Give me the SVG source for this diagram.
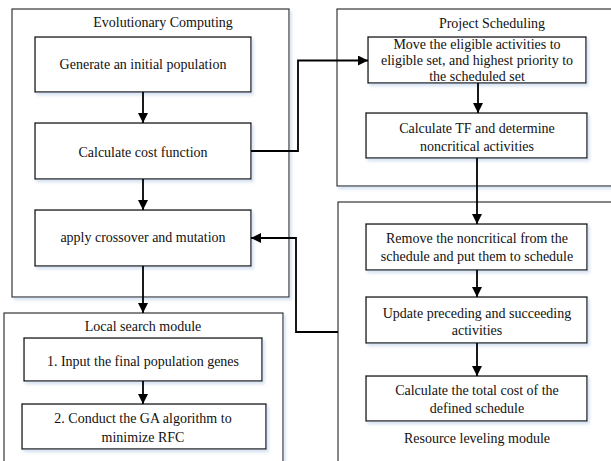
<svg xmlns="http://www.w3.org/2000/svg" width="611" height="461" viewBox="0 0 611 461" font-family="'Liberation Serif', 'Times New Roman', Times, 'DejaVu Serif', serif">
<style>
.outer{fill:#fff;stroke:#333;stroke-width:1.2;filter:url(#sh)}
.box{fill:#fff;stroke:#111;stroke-width:1.3;filter:url(#sh)}
text{font-family:'Liberation Serif','Times New Roman',Times,'DejaVu Serif',serif;font-size:14px;fill:#111;text-anchor:middle}
.c{fill:none;stroke:#000;stroke-width:1.8}
.a{marker-end:url(#ar)}
</style>
<defs>
<filter id="sh" x="-5%" y="-5%" width="115%" height="120%">
<feDropShadow dx="2" dy="2.5" stdDeviation="1.5" flood-color="#b9cde8" flood-opacity="0.6"/>
</filter>
<marker id="ar" markerUnits="userSpaceOnUse" markerWidth="11" markerHeight="11" refX="10" refY="5" orient="auto">
<path d="M0,0 L10,5 L0,10 z" fill="#000"/>
</marker>
</defs>
<g id="evolutionary-computing">
<rect class="outer" x="12" y="9" width="277" height="288"/>
<text x="163" y="26.5">Evolutionary Computing</text>
</g>
<g id="project-scheduling">
<rect class="outer" x="337" y="9" width="290" height="177"/>
<text x="492" y="27.5">Project Scheduling</text>
</g>
<g id="resource-leveling">
<rect class="outer" x="338" y="202" width="290" height="270"/>
<text x="477" y="442.5">Resource leveling module</text>
</g>
<g id="local-search">
<rect class="outer" x="4" y="313" width="279" height="160"/>
<text x="143" y="330.5">Local search module</text>
</g>
<g id="generate">
<rect class="box" x="35" y="37" width="216" height="55"/>
<text x="143" y="69">Generate an initial population</text>
</g>
<g id="cost">
<rect class="box" x="35" y="123" width="216" height="56"/>
<text x="143" y="157">Calculate cost function</text>
</g>
<g id="crossover">
<rect class="box" x="35" y="210" width="216" height="56"/>
<text x="143" y="242">apply crossover and mutation</text>
</g>
<g id="move">
<rect class="box" x="368" y="37" width="218" height="46"/>
<text x="477" y="48.5">Move the eligible activities  to</text>
<text x="477" y="64.5">eligible set, and highest priority  to</text>
<text x="477" y="80.5">the scheduled set</text>
</g>
<g id="tf">
<rect class="box" x="366" y="113" width="221" height="45"/>
<text x="477" y="132.5">Calculate TF and determine</text>
<text x="477" y="150.5">noncritical activities</text>
</g>
<g id="remove">
<rect class="box" x="366" y="224" width="221" height="46"/>
<text x="477" y="242.5">Remove the noncritical from the</text>
<text x="477" y="260.5">schedule and put them to schedule</text>
</g>
<g id="update">
<rect class="box" x="366" y="297" width="221" height="46"/>
<text x="477" y="317.5">Update preceding and succeeding</text>
<text x="477" y="334.5">activities</text>
</g>
<g id="total">
<rect class="box" x="366" y="376" width="221" height="45"/>
<text x="477" y="394.5">Calculate the total cost of the</text>
<text x="477" y="412.5">defined schedule</text>
</g>
<g id="input">
<rect class="box" x="24" y="338" width="238" height="43"/>
<text x="143" y="365.5">1. Input the final population genes</text>
</g>
<g id="conduct">
<rect class="box" x="22" y="404" width="244" height="45"/>
<text x="143" y="422.5">2. Conduct the GA algorithm to</text>
<text x="143" y="441.5">minimize RFC</text>
</g>
<g id="connectors">
<path class="c a" d="M143,92 V123"/>
<path class="c a" d="M143,179 V210"/>
<path class="c a" d="M143,266 V313"/>
<path class="c a" d="M143,381 V404"/>
<path class="c a" d="M251,151 H298 V60.5 H368"/>
<path class="c a" d="M478,83 V113"/>
<path class="c a" d="M477,158 V224"/>
<path class="c a" d="M477,270 V297"/>
<path class="c a" d="M477,343 V376"/>
<path class="c a" d="M338,332 H296 V238 H251"/>
</g>
</svg>
